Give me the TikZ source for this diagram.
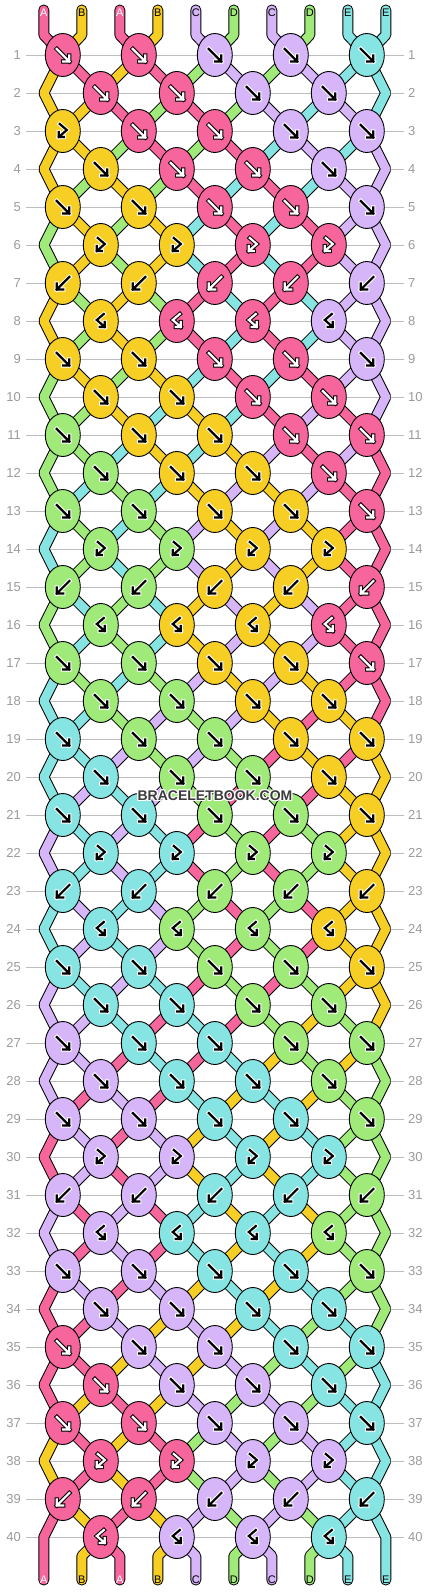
\documentclass[tikz,border=0pt]{standalone}
\usepackage{fontspec}
\setmainfont{Liberation Sans}
\usetikzlibrary{shapes.geometric}

\definecolor{colP}{HTML}{F6659C}
\definecolor{colY}{HTML}{F7CF24}
\definecolor{colL}{HTML}{D6B5F8}
\definecolor{colG}{HTML}{A0EA7A}
\definecolor{colC}{HTML}{86E5E3}
\colorlet{inkP}{white}
\colorlet{inkY}{black}
\colorlet{inkL}{black}
\colorlet{inkG}{black}
\colorlet{inkC}{black}
\colorlet{rimP}{black}
\colorlet{rimY}{white}
\colorlet{rimL}{white}
\colorlet{rimG}{white}
\colorlet{rimC}{white}
\definecolor{rowgray}{HTML}{9B9B9B}
\definecolor{linegray}{HTML}{BDBDBD}
\definecolor{wmgray}{HTML}{3B3B3B}

\tikzset{
	knot/.style={ellipse, draw=black, line width=0.9pt, minimum width=35pt, minimum height=43pt, inner sep=0pt},
	strand/.style={draw=black, line width=1pt, double=#1, double distance=9pt, line cap=round, line join=bevel},
	gridline/.style={draw=linegray, line width=0.8pt},
	rownum/.style={text=rowgray, inner sep=0pt, font=\fontsize{13}{13}\selectfont},
	tag/.style={inner sep=0pt, font=\fontsize{11}{11}\selectfont},
	wmtext/.style={inner sep=0pt, font=\bfseries\fontsize{14}{14}\selectfont}
}

% arrow marks of the four knot kinds
\newcommand{\mkf}{(-6,-6) -- (6.5,6.5) (6.5,0.5) -- (6.5,6.5) -- (0.5,6.5)}
\newcommand{\mkb}{(6.5,-6) -- (-6,6.5) (-6,0.5) -- (-6,6.5) -- (0.5,6.5)}
\newcommand{\mkfb}{(-3,-7) -- (4,-1) -- (-4,6) (-4,1) -- (-4,6) -- (1,6)}
\newcommand{\mkbf}{(3,-7) -- (-4,-1) -- (4,6) (4,1) -- (4,6) -- (-1,6)}
\newcommand{\knotarrow}[3]{
	\expandafter\let\expandafter\mkpath\csname mk#2\endcsname
	\draw[shift={(#1.center)}, draw=rim#3, line width=4.2pt, line cap=rect] \mkpath;
	\draw[shift={(#1.center)}, draw=ink#3, line width=2.2pt, line cap=rect] \mkpath;
}

\begin{document}
\begin{tikzpicture}[x=1pt, y=-1pt]
	\useasboundingbox (0,0) rectangle (430,1592);
	\fill[white] (0,0) rectangle (430,1592);

	% where every string sits in every row
	\foreach \row in {1,...,40} {
		\foreach \s in {1,...,10} {
			\ifodd\row
				\pgfmathsetmacro\px{76*ceil(\s/2)-13.2}
			\else
				\pgfmathsetmacro\px{\s==1 ? 43.8 : (\s==10 ? 385.8 : 76*floor(\s/2)+24.8)}
			\fi
			\coordinate (p-\row-\s) at (\px,{17+38*\row});
		}
	}
	\foreach \s in {1,...,10} {
		\coordinate (t-\s) at ({5.8+38*\s},10);
		\coordinate (tb-\s) at ({5.8+38*\s},35);
		\coordinate (bb-\s) at ({5.8+38*\s},1556);
		\coordinate (b-\s) at ({5.8+38*\s},1580);
	}

	% row numbers and lines
	\foreach \row in {1,...,40} {
		\node[rownum, anchor=east] (nl-\row) at (21,{17+38*\row}) {\row};
		\node[rownum, anchor=west] (nr-\row) at (408,{17+38*\row}) {\row};
		\draw[gridline] ([xshift=5pt]nl-\row.east) -- ([xshift=-4pt]nr-\row.west);
	}

	% strings, colours below each row
	\foreach \row/\st in {0/{P,Y,P,Y,L,G,L,G,C,C},1/{Y,P,Y,P,G,L,G,L,C,C},2/{Y,Y,P,G,P,G,L,C,L,C},
		3/{Y,Y,G,P,G,P,C,L,C,L},4/{Y,G,Y,G,P,C,P,C,L,L},5/{G,Y,G,Y,C,P,C,P,L,L},
		6/{G,Y,G,Y,C,P,C,P,L,L},7/{Y,G,Y,G,P,C,P,C,L,L},8/{Y,G,Y,G,P,C,P,C,L,L},
		9/{G,Y,G,Y,C,P,C,P,L,L},10/{G,G,Y,C,Y,C,P,L,P,L},11/{G,G,C,Y,C,Y,L,P,L,P},
		12/{G,C,G,C,Y,L,Y,L,P,P},13/{C,G,C,G,L,Y,L,Y,P,P},14/{C,G,C,G,L,Y,L,Y,P,P},
		15/{G,C,G,C,Y,L,Y,L,P,P},16/{G,C,G,C,Y,L,Y,L,P,P},17/{C,G,C,G,L,Y,L,Y,P,P},
		18/{C,C,G,L,G,L,Y,P,Y,P},19/{C,C,L,G,L,G,P,Y,P,Y},20/{C,L,C,L,G,P,G,P,Y,Y},
		21/{L,C,L,C,P,G,P,G,Y,Y},22/{L,C,L,C,P,G,P,G,Y,Y},23/{C,L,C,L,G,P,G,P,Y,Y},
		24/{C,L,C,L,G,P,G,P,Y,Y},25/{L,C,L,C,P,G,P,G,Y,Y},26/{L,L,C,P,C,P,G,Y,G,Y},
		27/{L,L,P,C,P,C,Y,G,Y,G},28/{L,P,L,P,C,Y,C,Y,G,G},29/{P,L,P,L,Y,C,Y,C,G,G},
		30/{P,L,P,L,Y,C,Y,C,G,G},31/{L,P,L,P,C,Y,C,Y,G,G},32/{L,P,L,P,C,Y,C,Y,G,G},
		33/{P,L,P,L,Y,C,Y,C,G,G},34/{P,P,L,Y,L,Y,C,G,C,G},35/{P,P,Y,L,Y,L,G,C,G,C},
		36/{P,Y,P,Y,L,G,L,G,C,C},37/{Y,P,Y,P,G,L,G,L,C,C},38/{Y,P,Y,P,G,L,G,L,C,C},
		39/{P,Y,P,Y,L,G,L,G,C,C},40/{P,Y,P,Y,L,G,L,G,C,C}} {
		\pgfmathtruncatemacro\rn{\row+1}
		\pgfmathtruncatemacro\rnn{\row+2}
		\foreach \sc [count=\s] in \st {
			\ifnum\row=0
				\draw[strand=col\sc] (t-\s) -- (tb-\s) -- (p-1-\s);
			\else
				\ifnum\s=1 \def\edge{1}\else\ifnum\s=10 \def\edge{1}\else\def\edge{0}\fi\fi
				\ifnum\edge=1
					\ifodd\row
						\ifnum\row=39
							\draw[strand=col\sc] (p-39-\s) -- (p-40-\s) -- (b-\s);
						\else
							\draw[strand=col\sc] (p-\row-\s) -- (p-\rn-\s) -- (p-\rnn-\s);
						\fi
					\fi
				\else
					\ifnum\row=40
						\draw[strand=col\sc] (p-40-\s) -- (bb-\s) -- (b-\s);
					\else
						\draw[strand=col\sc] (p-\row-\s) -- (p-\rn-\s);
					\fi
				\fi
			\fi
		}
	}

	% knots
	\foreach \row/\kn in {1/{P/f,P/f,L/f,L/f,C/f},2/{P/f,P/f,L/f,L/f},3/{Y/fb,P/f,P/f,L/f,L/f},
		4/{Y/f,P/f,P/f,L/f},5/{Y/f,Y/f,P/f,P/f,L/f},6/{Y/fb,Y/fb,P/fb,P/fb},
		7/{Y/b,Y/b,P/b,P/b,L/b},8/{Y/bf,P/bf,P/bf,L/bf},9/{Y/f,Y/f,P/f,P/f,L/f},
		10/{Y/f,Y/f,P/f,P/f},11/{G/f,Y/f,Y/f,P/f,P/f},12/{G/f,Y/f,Y/f,P/f},
		13/{G/f,G/f,Y/f,Y/f,P/f},14/{G/fb,G/fb,Y/fb,Y/fb},15/{G/b,G/b,Y/b,Y/b,P/b},
		16/{G/bf,Y/bf,Y/bf,P/bf},17/{G/f,G/f,Y/f,Y/f,P/f},18/{G/f,G/f,Y/f,Y/f},
		19/{C/f,G/f,G/f,Y/f,Y/f},20/{C/f,G/f,G/f,Y/f},21/{C/f,C/f,G/f,G/f,Y/f},
		22/{C/fb,C/fb,G/fb,G/fb},23/{C/b,C/b,G/b,G/b,Y/b},24/{C/bf,G/bf,G/bf,Y/bf},
		25/{C/f,C/f,G/f,G/f,Y/f},26/{C/f,C/f,G/f,G/f},27/{L/f,C/f,C/f,G/f,G/f},
		28/{L/f,C/f,C/f,G/f},29/{L/f,L/f,C/f,C/f,G/f},30/{L/fb,L/fb,C/fb,C/fb},
		31/{L/b,L/b,C/b,C/b,G/b},32/{L/bf,C/bf,C/bf,G/bf},33/{L/f,L/f,C/f,C/f,G/f},
		34/{L/f,L/f,C/f,C/f},35/{P/f,L/f,L/f,C/f,C/f},36/{P/f,L/f,L/f,C/f},
		37/{P/f,P/f,L/f,L/f,C/f},38/{P/fb,P/fb,L/fb,L/fb},39/{P/b,P/b,L/b,L/b,C/b},
		40/{P/bf,L/bf,L/bf,C/bf}} {
		\foreach \kc/\kt [count=\k] in \kn {
			\ifodd\row \pgfmathtruncatemacro\s{2*\k-1}\else\pgfmathtruncatemacro\s{2*\k}\fi
			\node[knot, fill=col\kc] (k-\row-\k) at (p-\row-\s) {};
			\knotarrow{k-\row-\k}{\kt}{\kc}
		}
	}

	% string letters
	\foreach \s/\lt/\sc in {1/A/P,2/B/Y,3/A/P,4/B/Y,5/C/L,6/D/G,7/C/L,8/D/G,9/E/C,10/E/C} {
		\node[tag, text=ink\sc] (ta-\s) at ({5.8+38*\s},13) {\lt};
		\node[tag, text=ink\sc] (ba-\s) at ({5.8+38*\s},1580) {\lt};
	}

	% watermark
	\foreach \dx/\dy [count=\h] in {-1/0,1/0,0/-1,0/1,-1/-1,1/1,-1/1,1/-1}
		\node[wmtext, text=white] (halo-\h) at ({215+\dx},{796+\dy}) {BRACELETBOOK.COM};
	\node[wmtext, text=wmgray] (wm) at (215,796) {BRACELETBOOK.COM};
\end{tikzpicture}
\end{document}
